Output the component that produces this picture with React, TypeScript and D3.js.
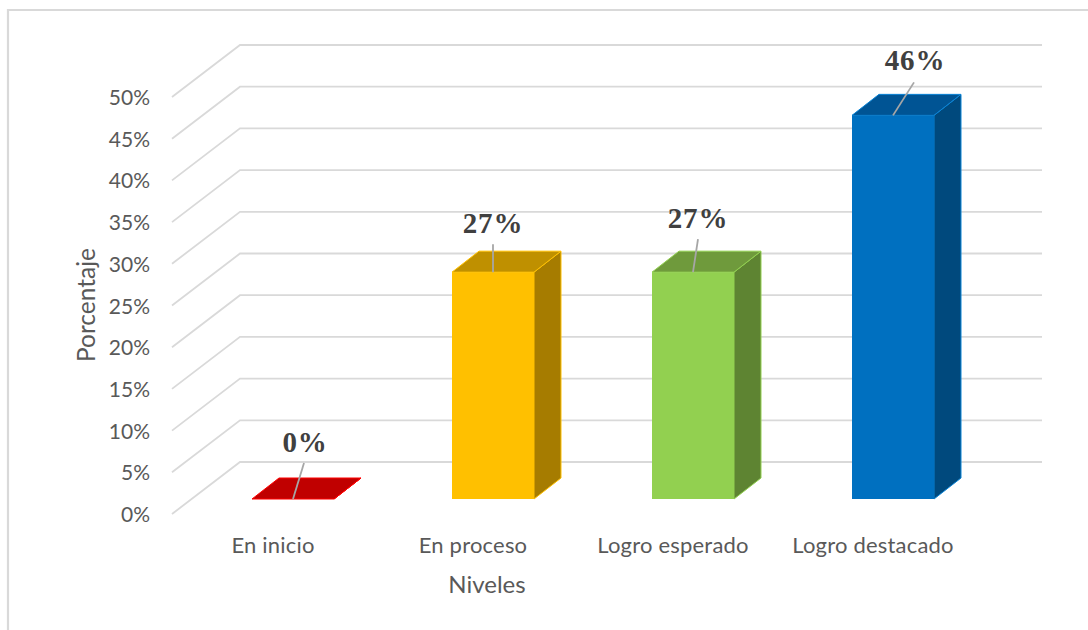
import React from "react";
import * as d3 from "d3";

const categories = ["En inicio", "En proceso", "Logro esperado", "Logro destacado"];
const values = [0, 27.2, 27.2, 46];
const ticks = [0, 5, 10, 15, 20, 25, 30, 35, 40, 45, 50];
const frontColors = ["#ff0000", "#ffc000", "#92d050", "#0070c0"];
const topColors = ["#c00000", "#bf9000", "#6f9a3c", "#005494"];
const sideColors = ["#a00000", "#a67c00", "#5e8432", "#00497d"];
const edgeColors = ["#ff0000", "#ffc000", "#92d050", "#0a84d6"];
const leaderTips = [[11, -36], [0, -28], [5, -33], [21, -33]];
const labelOffsets = [[12, -57], [0, -49], [5, -54], [22, -55]];

const FONT = "Lato, 'Open Sans', sans-serif";
const GRAY = "#595959";

export default function App() {
  const yBack = d3.scaleLinear().domain([0, 50]).range([462, 45]);
  const yFront = d3.scaleLinear().domain([0, 50]).range([514, 97]);
  const barH = d3.scaleLinear().domain([0, 50]).range([0, 417]);
  const x = d3.scaleBand().domain(categories).range([252, 1052]);
  const barW = 82;
  const depthX = 27;
  const depthY = 21;
  const floor = 499;

  return (
    <svg width={1088} height={630} style={{ position: "absolute", left: 0, top: 0, background: "#fff" }}>
      <path d="M1088 10 H8 V630" fill="none" stroke="#d9d9d9" strokeWidth={2.2} />
      {ticks.map((t) => (
        <g key={t}>
          <path
            d={`M172 ${yFront(t)} L240 ${yBack(t)} H1042`}
            fill="none"
            stroke="#d9d9d9"
            strokeWidth={1.8}
          />
          <text x={150} y={yFront(t) - 0.5} textAnchor="end" dominantBaseline="central" fontFamily={FONT} fontSize={21} fill={GRAY}>
            {t}%
          </text>
        </g>
      ))}
      {categories.map((c, i) => {
        const x0 = x(c)!;
        const x1 = x0 + barW;
        const top = floor - barH(values[i]);
        const mid = x0 + barW / 2;
        return (
          <g key={c}>
            <path
              d={`M${x1} ${floor} L${x1 + depthX} ${floor - depthY} V${top - depthY} L${x1} ${top} Z`}
              fill={sideColors[i]}
              stroke={edgeColors[i]}
              strokeWidth={1}
            />
            <path
              d={`M${x0} ${top} L${x0 + depthX} ${top - depthY} H${x1 + depthX} L${x1} ${top} Z`}
              fill={topColors[i]}
              stroke={edgeColors[i]}
              strokeWidth={1}
            />
            {values[i] > 0 && <rect x={x0} y={top} width={barW} height={floor - top} fill={frontColors[i]} />}
            <line
              x1={mid}
              y1={top}
              x2={mid + leaderTips[i][0]}
              y2={top + leaderTips[i][1]}
              stroke="#a6a6a6"
              strokeWidth={1.8}
            />
            <text
              x={mid + labelOffsets[i][0]}
              y={top + labelOffsets[i][1]}
              textAnchor="middle"
              dominantBaseline="central"
              fontFamily="'Liberation Serif', serif"
              fontWeight="bold"
              fontSize={29}
              letterSpacing={0.8}
              fill="#404040"
            >
              {Math.round(values[i])}%
            </text>
            <text x={mid - 20} y={544} textAnchor="middle" dominantBaseline="central" fontFamily={FONT} fontSize={22} letterSpacing={0.2} fill={GRAY}>
              {c}
            </text>
          </g>
        );
      })}
      <text x={487} y={583} textAnchor="middle" dominantBaseline="central" fontFamily={FONT} fontSize={24} fill={GRAY}>
        Niveles
      </text>
      <text
        transform="translate(85,305) rotate(-90)"
        textAnchor="middle"
        dominantBaseline="central"
        fontFamily={FONT}
        fontSize={24.5}
        fill={GRAY}
      >
        Porcentaje
      </text>
    </svg>
  );
}
